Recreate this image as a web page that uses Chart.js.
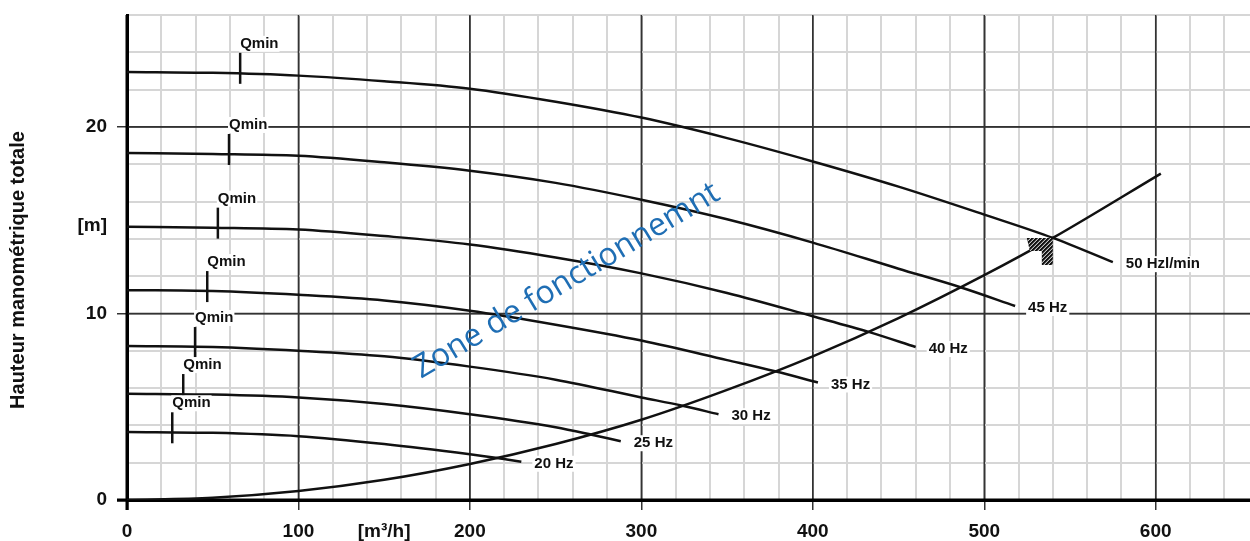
<!DOCTYPE html>
<html><head><meta charset="utf-8">
<script src="https://cdn.jsdelivr.net/npm/chart.js@4.4.0/dist/chart.umd.min.js"></script>
<style>html,body{margin:0;padding:0;background:#fff;overflow:hidden}canvas{display:block}</style>
</head><body>
<canvas id="c" width="1250" height="541"></canvas>
<script>
// ---- tick labels / axis texts ----
const xTickValues = [0, 100, 200, 300, 400, 500, 600];
const xUnitLabel = '[m³/h]';
const xUnitAt = 150;
const yTickValues = [0, 10, 20];
const yUnitLabel = '[m]';
const yUnitAt = 14.7;
const yTitle = 'Hauteur manométrique totale';
const zoneText = 'Zone de fonctionnemnt';

// ---- pump curves (flow m³/h, head m) ----
const curveNames = ['50 Hzl/min', '45 Hz', '40 Hz', '35 Hz', '30 Hz', '25 Hz', '20 Hz'];
const flow50 = [0, 50, 100, 150, 200, 250, 300, 350, 400, 450, 500, 540, 575];
const head50 = [22.95, 22.9, 22.75, 22.45, 22.05, 21.35, 20.5, 19.4, 18.15, 16.8, 15.3, 14.05, 12.75];
const flow45 = [0, 50, 100, 150, 200, 250, 300, 350, 400, 450, 487, 518];
const head45 = [18.6, 18.55, 18.45, 18.1, 17.65, 17.0, 16.1, 15.05, 13.8, 12.4, 11.38, 10.4];
const flow40 = [0, 50, 100, 150, 200, 250, 300, 350, 400, 433, 460];
const head40 = [14.65, 14.6, 14.5, 14.15, 13.7, 13.0, 12.15, 11.1, 9.85, 9.0, 8.2];
const flow35 = [0, 50, 100, 150, 200, 250, 300, 350, 378, 403];
const head35 = [11.25, 11.2, 11.0, 10.7, 10.15, 9.4, 8.55, 7.5, 6.9, 6.3];
const flow30 = [0, 50, 100, 150, 200, 250, 300, 324, 345];
const head30 = [8.25, 8.2, 8.0, 7.7, 7.15, 6.45, 5.5, 5.05, 4.6];
const flow25 = [0, 50, 100, 150, 200, 250, 271, 288];
const head25 = [5.7, 5.65, 5.5, 5.15, 4.6, 3.9, 3.5, 3.15];
const flow20 = [0, 50, 100, 150, 200, 216, 230];
const head20 = [3.65, 3.6, 3.42, 3.0, 2.45, 2.25, 2.05];

// ---- system curve ----
const systemFlow = [0, 50, 100, 150, 200, 250, 300, 350, 400, 450, 500, 540, 603];
const systemHead = [0, 0.12, 0.48, 1.08, 1.93, 3.0, 4.3, 5.9, 7.7, 9.75, 12.05, 14.05, 17.5];

// ---- Qmin markers ----
const qminFlow = [66, 59.5, 53, 46.8, 39.7, 32.8, 26.4];
const qminHead = [22.9, 18.55, 14.6, 11.2, 8.2, 5.68, 3.63];

// ---- duty point ----
const dutyFlow = 540;
const dutyHead = 14.05;

const curveFlows = [flow50, flow45, flow40, flow35, flow30, flow25, flow20];
const curveHeads = [head50, head45, head40, head35, head30, head25, head20];

const pts = (fx, fy) => fx.map((q, i) => ({ x: q, y: fy[i] }));
const lineStyle = { showLine: true, pointRadius: 0, borderColor: '#111', borderWidth: 2.5, cubicInterpolationMode: 'monotone', fill: false };

const datasets = curveFlows.map((f, i) => Object.assign({ label: curveNames[i], data: pts(f, curveHeads[i]) }, lineStyle));
datasets.push(Object.assign({ label: 'system', data: pts(systemFlow, systemHead) }, lineStyle));

const MAJOR = '#333333', MINOR = '#d6d6d6', NONE = 'rgba(0,0,0,0)';
const labelFont = { family: 'Liberation Sans', weight: 'bold', size: 19 };

function gridStyle(majorTest, unitVal) {
  return {
    color: c => { const v = c.tick.value; if (v === unitVal) return NONE; if (v === 0) return '#000'; return majorTest(v) ? MAJOR : MINOR; },
    lineWidth: c => { const v = c.tick.value; if (v === 0) return 3; return majorTest(v) ? 1.5 : 2; },
    tickColor: c => { const v = c.tick.value; if (v === unitVal) return NONE; if (v === 0) return '#000'; return majorTest(v) ? MAJOR : NONE; },
    tickWidth: c => (c.tick.value === 0 ? 2 : 1.5),
    tickLength: 10,
    drawTicks: true
  };
}

const annot = {
  id: 'annot',
  beforeDatasetsDraw(chart) {
    const { ctx, chartArea: a, scales: { x, y } } = chart;
    ctx.save();
    ctx.strokeStyle = MAJOR; ctx.lineWidth = 1.5;
    xTickValues.forEach(v => { if (v === 0) return; const p = x.getPixelForValue(v); ctx.beginPath(); ctx.moveTo(p, a.top); ctx.lineTo(p, a.bottom); ctx.stroke(); });
    yTickValues.forEach(v => { if (v === 0) return; const p = y.getPixelForValue(v); ctx.beginPath(); ctx.moveTo(a.left, p); ctx.lineTo(a.right, p); ctx.stroke(); });
    ctx.strokeStyle = '#000'; ctx.lineWidth = 3;
    ctx.beginPath(); ctx.moveTo(x.getPixelForValue(0), a.top); ctx.lineTo(x.getPixelForValue(0), a.bottom + 10); ctx.stroke();
    ctx.beginPath(); ctx.moveTo(a.left - 10, y.getPixelForValue(0)); ctx.lineTo(a.right, y.getPixelForValue(0)); ctx.stroke();
    ctx.restore();
  },
  afterDatasetsDraw(chart) {
    const { ctx, scales: { x, y } } = chart;
    ctx.save();
    // duty point hatch
    const dx = x.getPixelForValue(dutyFlow), dy = y.getPixelForValue(dutyHead);
    ctx.save();
    ctx.beginPath();
    ctx.moveTo(dx - 26, dy); ctx.lineTo(dx, dy); ctx.lineTo(dx, dy + 27); ctx.lineTo(dx - 11, dy + 27);
    ctx.lineTo(dx - 11, dy + 13); ctx.lineTo(dx - 23, dy + 13); ctx.closePath();
    ctx.clip();
    ctx.fillStyle = '#111'; ctx.fillRect(dx - 30, dy - 2, 34, 32);
    ctx.strokeStyle = '#fff'; ctx.lineWidth = 1;
    for (let k = -40; k < 40; k += 4) { ctx.beginPath(); ctx.moveTo(dx + k - 20, dy + 30); ctx.lineTo(dx + k + 20, dy - 10); ctx.stroke(); }
    ctx.restore();

    // Qmin markers
    ctx.font = 'bold 15px "Liberation Sans"';
    ctx.textBaseline = 'middle'; ctx.textAlign = 'left';
    qminFlow.forEach((q, i) => {
      const px = x.getPixelForValue(q), py = y.getPixelForValue(qminHead[i]);
      const w = ctx.measureText('Qmin').width;
      ctx.fillStyle = '#fff'; ctx.fillRect(px - 1, py - 29 - 8, w + 2, 16);
      ctx.fillStyle = '#111'; ctx.fillText('Qmin', px, py - 29);
      ctx.strokeStyle = '#111'; ctx.lineWidth = 2.5;
      ctx.beginPath(); ctx.moveTo(px, py - 20); ctx.lineTo(px, py + 11); ctx.stroke();
    });
    // curve end labels
    curveFlows.forEach((f, i) => {
      const h = curveHeads[i];
      const px = x.getPixelForValue(f[f.length - 1]) + 13, py = y.getPixelForValue(h[h.length - 1]) + 2;
      const w = ctx.measureText(curveNames[i]).width;
      ctx.fillStyle = '#fff'; ctx.fillRect(px - 2, py - 8, w + 4, 16);
      ctx.fillStyle = '#111'; ctx.fillText(curveNames[i], px, py);
    });
    // zone text
    ctx.translate(x.getPixelForValue(256.5), y.getPixelForValue(11.75));
    ctx.rotate(-31 * Math.PI / 180);
    ctx.font = '32px "Open Sans"';
    ctx.fillStyle = '#1f6eb4'; ctx.textAlign = 'center'; ctx.textBaseline = 'middle';
    ctx.fillText(zoneText, 0, 0);
    ctx.restore();
  },
  afterDraw(chart) {
    const { ctx } = chart;
    ctx.save();
    ctx.translate(18, 270);
    ctx.rotate(-Math.PI / 2);
    ctx.font = 'bold 20px "Liberation Sans"';
    ctx.fillStyle = '#111'; ctx.textAlign = 'center'; ctx.textBaseline = 'middle';
    ctx.fillText(yTitle, 0, 0);
    ctx.restore();
  }
};

new Chart(document.getElementById('c'), {
  type: 'scatter',
  data: { datasets },
  plugins: [annot],
  options: {
    responsive: false, animation: false, devicePixelRatio: 1,
    layout: { padding: { top: 15, right: 0, bottom: 0, left: 0 } },
    plugins: { legend: { display: false }, tooltip: { enabled: false } },
    scales: {
      x: {
        type: 'linear', min: 0, max: 655,
        afterBuildTicks: s => { const t = []; for (let v = 0; v <= 640; v += 20) t.push({ value: v }); t.push({ value: xUnitAt }); t.sort((a, b) => a.value - b.value); s.ticks = t; },
        afterFit: s => { s.height = 41; s.paddingLeft = 0; s.paddingRight = 0; },
        ticks: { autoSkip: false, maxRotation: 0, padding: 10, font: labelFont, color: '#111',
          callback: v => xTickValues.includes(v) ? String(v) : (v === xUnitAt ? xUnitLabel : '') },
        grid: gridStyle(v => v % 100 === 0, xUnitAt),
        border: { display: true, color: '#000', width: 3 }
      },
      y: {
        type: 'linear', min: 0, max: 26,
        afterBuildTicks: s => { const t = []; for (let v = 0; v <= 26; v += 2) t.push({ value: v }); t.push({ value: yUnitAt }); t.sort((a, b) => a.value - b.value); s.ticks = t; },
        afterFit: s => { s.width = 127; s.paddingTop = 0; s.paddingBottom = 0; },
        ticks: { autoSkip: false, padding: 10, font: labelFont, color: '#111',
          callback: v => yTickValues.includes(v) ? String(v) : (v === yUnitAt ? yUnitLabel : '') },
        grid: gridStyle(v => v % 10 === 0, yUnitAt),
        border: { display: true, color: '#000', width: 3 },
        title: { display: false }
      }
    }
  }
});
</script>
</body></html>
